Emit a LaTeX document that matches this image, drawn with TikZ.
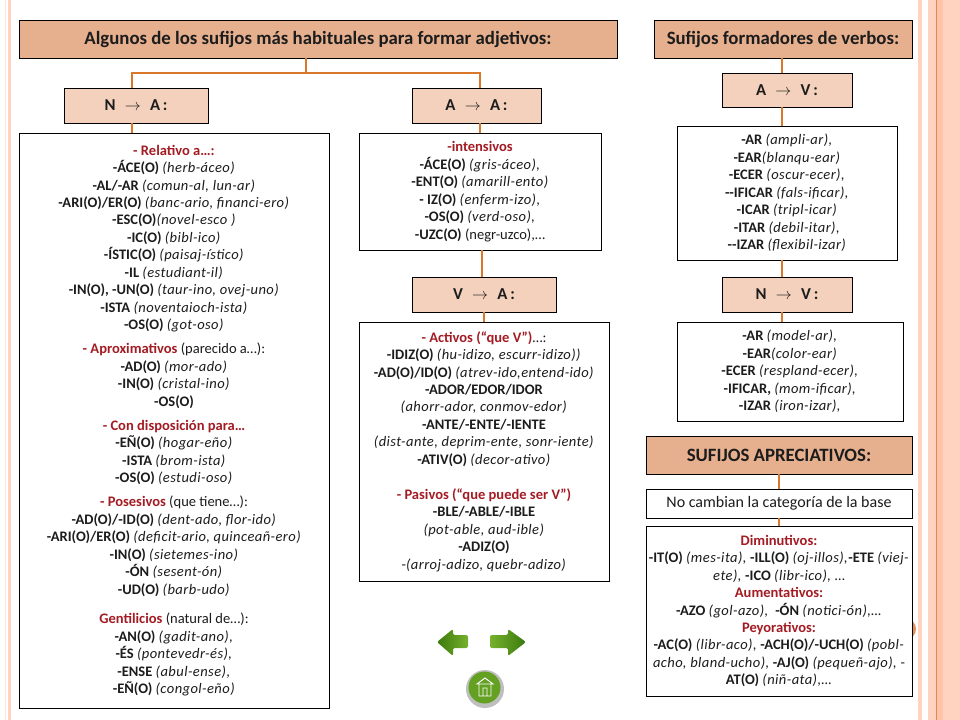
\documentclass[tikz,border=0pt]{standalone}
\usepackage{fontspec}
\setmainfont{Carlito}[ItalicFeatures={LetterSpace=3}]
\usetikzlibrary{positioning, arrows.meta, calc}
\definecolor{tituloc}{HTML}{E6B08F}
\definecolor{flechac}{HTML}{F3D1BC}
\definecolor{lineac}{HTML}{D9772B}
\definecolor{rojoc}{HTML}{A31C24}
\definecolor{textoc}{HTML}{1C1C1C}
\definecolor{bandac}{HTML}{FFD3BF}
\definecolor{bandbc}{HTML}{FFC4AB}
\definecolor{verdec}{HTML}{76B02C}
\definecolor{verdeo}{HTML}{3A7A0C}
\newcommand{\sufijo}[2]{\textbf{#1} \textit{#2}}
\newcommand{\rojo}[1]{\textcolor{rojoc}{\textbf{#1}}}
\newcommand{\paso}[2]{#1\;\;$\rightarrow$\;\;#2\,:}

\begin{document}
\begin{tikzpicture}[
		x=0.75pt, y=-0.75pt,
		font=\fontsize{10.9pt}{13.1pt}\selectfont,
		text=textoc,
		titulo/.style={draw=black, fill=tituloc, inner sep=0pt, align=center, font=\fontsize{14.1pt}{16pt}\selectfont\bfseries},
		flecha/.style={draw=black, fill=flechac, inner sep=0pt, align=center, font=\fontsize{12.5pt}{14pt}\selectfont\bfseries},
		caja/.style={draw=black, fill=white, inner sep=0pt, align=center},
		conn/.style={draw=lineac, line width=1.8pt},
		boton/.style={rounded corners=1.5pt, draw=none}
		]
		
		\useasboundingbox (0,0) rectangle (960,720);
		\fill[white] (0,0) rectangle (960,720);
		
		% bands at the sides
		\fill[bandac!60!white] (5,0) rectangle (6,720);
		\fill[bandac] (8,0) rectangle (11,720);
		\fill[bandac] (918,0) rectangle (922,720);
		\fill[bandac] (928,0) rectangle (936,720);
		\fill[lineac!80!bandac] (936,0) rectangle (937,720);
		\fill[bandbc] (937,0) rectangle (943,720);
		\fill[bandac] (943,0) rectangle (960,720);
		\fill[lineac!80!white] (905,629) circle (11);
		
		% 1. Adjectives
		\node[titulo, minimum width=598*0.75pt, minimum height=38*0.75pt] (adjetivos) at (318,39) {Algunos de los sufijos más habituales para formar adjetivos:};
		\node[flecha, minimum width=144*0.75pt, minimum height=35*0.75pt] (na) at (136,105.5) {\paso{N}{A}};
		\node[flecha, minimum width=129*0.75pt, minimum height=35*0.75pt] (aa) at (476.5,105.5) {\paso{A}{A}};
		\node[flecha, minimum width=144*0.75pt, minimum height=35*0.75pt] (va) at (484,294.5) {\paso{V}{A}};
		
		\node[caja, minimum width=310*0.75pt, minimum height=575*0.75pt] (relativo) at (174,420.5) {
			\rojo{- Relativo a\dots:}\\
			\sufijo{-ÁCE(O)}{(herb-áceo)}\\
			\sufijo{-AL/-AR}{(comun-al, lun-ar)}\\
			\sufijo{-ARI(O)/ER(O)}{(banc-ario, financi-ero)}\\
			\textbf{-ESC(O)}\textit{(novel-esco )}\\
			\sufijo{-IC(O)}{(bibl-ico)}\\
			\sufijo{-ÍSTIC(O)}{(paisaj-ístico)}\\
			\sufijo{-IL}{(estudiant-il)}\\
			\sufijo{-IN(O), -UN(O)}{(taur-ino, ovej-uno)}\\
			\sufijo{-ISTA}{(noventaioch-ista)}\\
			\sufijo{-OS(O)}{(got-oso)}\\[5pt]
			\rojo{- Aproximativos} (parecido a\dots):\\
			\sufijo{-AD(O)}{(mor-ado)}\\
			\sufijo{-IN(O)}{(cristal-ino)}\\
			\textbf{-OS(O)}\\[5pt]
			\rojo{- Con disposición para\dots}\\
			\sufijo{-EÑ(O)}{(hogar-eño)}\\
			\sufijo{-ISTA}{(brom-ista)}\\
			\sufijo{-OS(O)}{(estudi-oso)}\\[5pt]
			\rojo{- Posesivos} (que tiene\dots):\\
			\sufijo{-AD(O)/-ID(O)}{(dent-ado, flor-ido)}\\
			\sufijo{-ARI(O)/ER(O)}{(deficit-ario, quinceañ-ero)}\\
			\sufijo{-IN(O)}{(sietemes-ino)}\\
			\sufijo{-ÓN}{(sesent-ón)}\\
			\sufijo{-UD(O)}{(barb-udo)}\\[9pt]
			\rojo{Gentilicios} (natural de\dots):\\
			\sufijo{-AN(O)}{(gadit-ano),}\\
			\sufijo{-ÉS}{(pontevedr-és),}\\
			\sufijo{-ENSE}{(abul-ense),}\\
			\sufijo{-EÑ(O)}{(congol-eño)}
		};
		\node[caja, minimum width=242*0.75pt, minimum height=117*0.75pt] (intensivos) at (480,191.5) {
			\textcolor{rojoc}{\textbf{-intensivos}}\\
			\sufijo{-ÁCE(O)}{(gris-áceo),}\\
			\sufijo{-ENT(O)}{(amarill-ento)}\\
			\sufijo{- IZ(O)}{(enferm-izo),}\\
			\sufijo{-OS(O)}{(verd-oso),}\\
			\textbf{-UZC(O)} (negr-uzco),\dots
		};
		\node[caja, minimum width=250*0.75pt, minimum height=259*0.75pt] (activos) at (484,451.5) {
			\rojo{- Activos (“que V”)}\dots:\\
			\sufijo{-IDIZ(O)}{(hu-idizo, escurr-idizo))}\\
			\sufijo{-AD(O)/ID(O)}{(atrev-ido,entend-ido)}\\
			\textbf{-ADOR/EDOR/IDOR}\\
			\textit{(ahorr-ador, conmov-edor)}\\
			\textbf{-ANTE/-ENTE/-IENTE}\\
			\textit{(dist-ante, deprim-ente, sonr-iente)}\\
			\sufijo{-ATIV(O)}{(decor-ativo)}\\[13.1pt]
			\rojo{- Pasivos (“que puede ser V”)}\\
			\textbf{-BLE/-ABLE/-IBLE}\\
			\textit{(pot-able, aud-ible)}\\
			\textbf{-ADIZ(O)}\\
			-\textit{(arroj-adizo, quebr-adizo)}
		};
		
		% 2. Verbs
		\node[titulo, minimum width=258*0.75pt, minimum height=38*0.75pt] (verbos) at (783,39) {Sufijos formadores de verbos:};
		\node[flecha, minimum width=130*0.75pt, minimum height=34*0.75pt] (av) at (787,90) {\paso{A}{V}};
		\node[flecha, minimum width=130*0.75pt, minimum height=35*0.75pt] (nv) at (787,294.5) {\paso{N}{V}};
		\node[caja, minimum width=220*0.75pt, minimum height=134*0.75pt] (cajaav) at (787,193) {
			\sufijo{-AR}{(ampli-ar),}\\
			\textbf{-EAR}\textit{(blanqu-ear)}\\
			\sufijo{-ECER}{(oscur-ecer),}\\
			\sufijo{-{}-IFICAR}{(fals-ificar),}\\
			\sufijo{-ICAR}{(tripl-icar)}\\
			\sufijo{-ITAR}{(debil-itar),}\\
			\sufijo{-{}-IZAR}{(flexibil-izar)}
		};
		\node[caja, minimum width=226*0.75pt, minimum height=99*0.75pt] (cajanv) at (790,371.5) {
			\sufijo{-AR}{(model-ar),}\\
			\textbf{-EAR}\textit{(color-ear)}\\
			\sufijo{-ECER}{(respland-ecer),}\\
			\sufijo{-IFICAR,}{(mom-ificar),}\\
			\sufijo{-IZAR}{(iron-izar),}
		};
		
		% 3. Appreciative suffixes
		\node[titulo, minimum width=266*0.75pt, minimum height=38*0.75pt] (apreciativos) at (779,455) {SUFIJOS APRECIATIVOS:};
		\node[caja, minimum width=266*0.75pt, minimum height=29*0.75pt, font=\fontsize{12pt}{14pt}\selectfont] (base) at (779,503.5) {No cambian la categoría de la base};
		\node[caja, minimum width=266*0.75pt, minimum height=170*0.75pt] (diminutivos) at (779,611) {
			\rojo{Diminutivos:}\\
			\sufijo{-IT(O)}{(mes-ita),} \sufijo{-ILL(O)}{(oj-illos),}\textbf{-ETE} \textit{(viej-}\\
			\textit{ete),} \sufijo{-ICO}{(libr-ico),} \dots\\
			\rojo{Aumentativos:}\\
			\sufijo{-AZO}{(gol-azo),} \sufijo{ -ÓN}{(notici-ón),\dots}\\
			\rojo{Peyorativos:}\\
			\sufijo{-AC(O)}{(libr-aco),} \sufijo{-ACH(O)/-UCH(O)}{(pobl-}\\
			\textit{acho, bland-ucho),} \sufijo{-AJ(O)}{(pequeñ-ajo),} -\\
			\sufijo{AT(O)}{(niñ-ata),\dots}
		};
		
		% Connectors
		\coordinate (jt) at (306,73);
		\coordinate (jl) at (132,73);
		\coordinate (jr) at (480,73);
		\draw[conn] (adjetivos.south -| jt) -- (jt);
		\draw[conn] (jl |- na.north) |- (jr) -- (jr |- aa.north);
		\draw[conn] (jl |- na.south) -- (jl |- relativo.north);
		\draw[conn] (jr |- aa.south) -- (jr |- intensivos.north);
		\coordinate (jv) at (482,260);
		\draw[conn] (jv |- intensivos.south) -- (jv |- va.north);
		\draw[conn] (va.south) -- (activos.north);
		\coordinate (jw) at (782,73);
		\draw[conn] (jw |- verbos.south) -- (jw |- av.north);
		\draw[conn] (jw |- av.south) -- (jw |- cajaav.north);
		\draw[conn] (jw |- cajaav.south) -- (jw |- nv.north);
		\draw[conn] (jw |- nv.south) -- (jw |- cajanv.north);
		\draw[conn] (apreciativos.south) -- (base.north);
		\draw[conn] (base.south) -- (diminutivos.north);
		
		% Buttons
		\shade[boton, left color=verdeo, right color=verdec] (437,642) -- (453,629) -- (453,635) -- (468,635) -- (468,648) -- (453,648) -- (453,656) -- cycle;
		\shade[boton, left color=verdec, right color=verdeo] (526,642) -- (508,629) -- (508,635) -- (490,635) -- (490,648) -- (508,648) -- (508,656) -- cycle;
		\fill[black!25] (485,689) circle (19);
		\fill[verdec!70!verdeo] (484.5,687.5) circle (16);
		\draw[white, line width=0.7pt] (477,684) -- (485,678) -- (493,684) -- cycle (479,684) rectangle (491,696) (483,696) -- (483,688) -- (487,688) -- (487,696);
	\end{tikzpicture}
\end{document}
